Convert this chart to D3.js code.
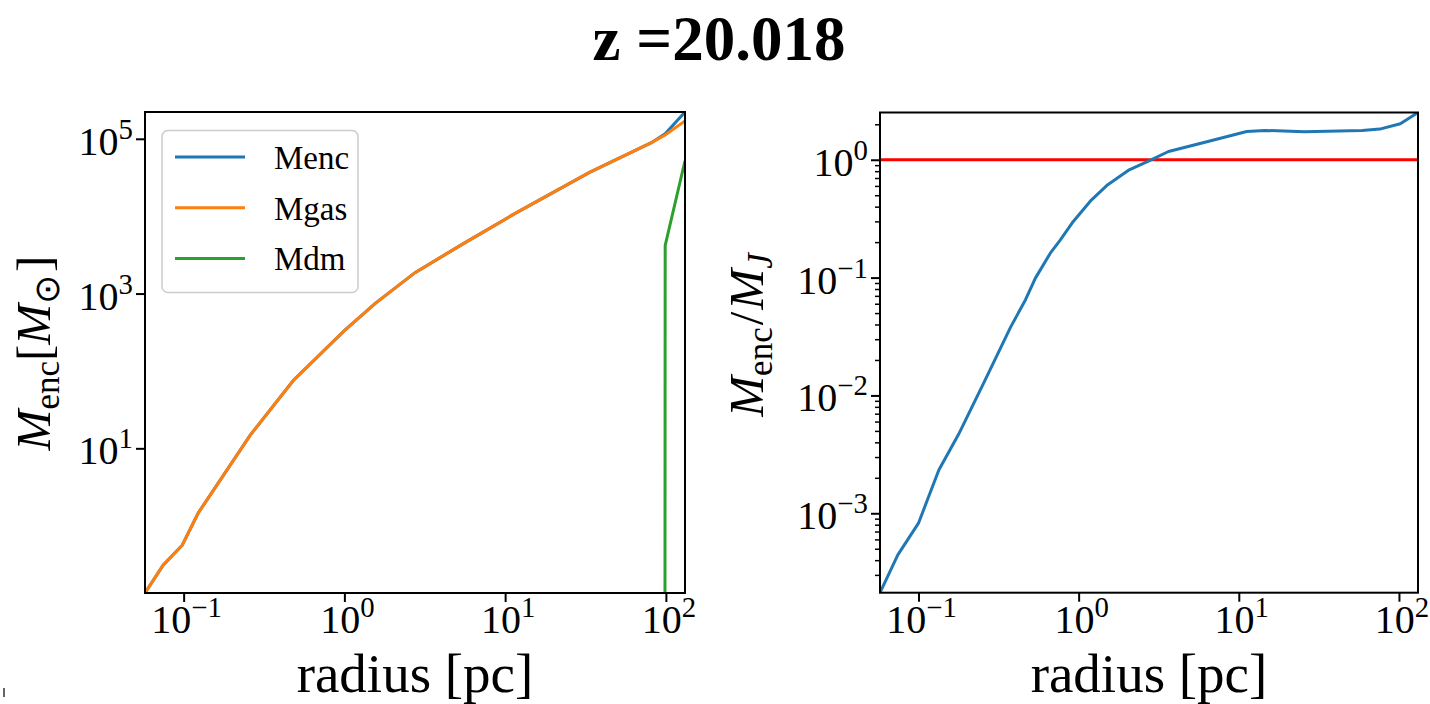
<!DOCTYPE html>
<html>
<head>
<meta charset="utf-8">
<script src="https://cdn.jsdelivr.net/npm/d3@7"></script>
<style>
  body { margin: 0; background: #fff; }
  svg { display: block; }
  text { font-family: "Liberation Serif", "Times New Roman", serif; fill: #000; }
</style>
</head>
<body>
<svg id="fig" width="1430" height="704"></svg>
<script>
// ---- enclosed mass profile (left panel) ----
const radiusMass = [0.0575, 0.0745, 0.098, 0.123, 0.259, 0.481, 1.0, 1.55, 2.75, 5.5, 11.4, 33.5, 81.3, 99, 131.5];
const massGas    = [0.135, 0.309, 0.56, 1.45, 14.7, 75.3, 331, 741, 1862, 4416, 10700, 36800, 89100, 112000, 170000];
const massEnc    = [0.135, 0.309, 0.56, 1.45, 14.7, 75.3, 331, 741, 1862, 4416, 10700, 36800, 89100, 116200, 222000];
const radiusDm   = [81.3, 99, 131.5];
const massDm     = [0, 4200, 52000];

// ---- enclosed mass over Jeans mass (right panel) ----
const radiusRatio = [0.0575, 0.0743, 0.1, 0.134, 0.178, 0.261, 0.376, 0.466, 0.537, 0.667, 0.769, 0.912,
                     1.2, 1.52, 2.07, 2.79, 3.64, 6.41, 11.2, 14.5, 25.7, 58.9, 75.9, 102, 131.5];
const ratioJeans  = [2.118e-4, 4.436e-4, 8.24e-4, 2.333e-3, 4.68e-3, 0.01355, 0.038, 0.0649, 0.099, 0.162,
                     0.209, 0.2917, 0.455, 0.614, 0.822, 0.99, 1.175, 1.429, 1.738, 1.774, 1.73, 1.774, 1.82, 2.023, 2.518];
const jeansThreshold = 1;

// ---- ticks and labels ----
const xTickValues  = [0.1, 1, 10, 100];
const yTickLeft    = [10, 1000, 100000];
const yTickRight   = [0.001, 0.01, 0.1, 1];
const legendLabels = ["Menc", "Mgas", "Mdm"];
const titleText    = "z =20.018";
const xLabelText   = "radius [pc]";

const colors = { enc: "#1f77b4", gas: "#ff7f0e", dm: "#2ca02c", ref: "#ff0000" };

const svg = d3.select("#fig");
const TICK_FS = 40;

function expText(v) {
  const e = Math.round(Math.log10(v));
  return e < 0 ? "\u2212" + (-e) : String(e);
}
function powerLabel(t, v) {
  t.append("tspan").attr("font-size", TICK_FS).text("10");
  t.append("tspan").attr("font-size", TICK_FS * 0.72).attr("dy", -TICK_FS * 0.4).text(expText(v));
}
function minorTicks(domain) {
  const out = [];
  const lo = Math.floor(Math.log10(domain[0])), hi = Math.ceil(Math.log10(domain[1]));
  for (let k = lo; k <= hi; k++) {
    for (let m = 2; m <= 9; m++) {
      const v = m * Math.pow(10, k);
      if (v >= domain[0] && v <= domain[1]) out.push(v);
    }
  }
  return out;
}
// log axes cannot show zero: clip non-positive values to a tiny floor
const FLOOR = 1e-300;
const pos = v => (v > 0 ? v : FLOOR);

function makePanel(id, box, xDomain, yDomain, yTicks, withMinorY) {
  const x = d3.scaleLog().domain(xDomain).range([box.left, box.right]);
  const y = d3.scaleLog().domain(yDomain).range([box.bottom, box.top]);
  const g = svg.append("g");

  g.append("clipPath").attr("id", id)
    .append("rect").attr("x", box.left).attr("y", box.top)
    .attr("width", box.right - box.left).attr("height", box.bottom - box.top);

  // x axis ticks
  g.append("g").attr("transform", `translate(0,${box.bottom})`)
    .call(d3.axisBottom(x).tickValues(xTickValues).tickSize(9).tickFormat(""))
    .call(a => a.select(".domain").remove())
    .call(a => a.selectAll("line").attr("stroke", "#000").attr("stroke-width", 2));
  g.append("g").selectAll("text").data(xTickValues).join("text")
    .attr("x", d => x(d) + 3).attr("y", 633)
    .attr("text-anchor", "middle")
    .each(function (d) { powerLabel(d3.select(this), d); });

  // y axis ticks
  if (withMinorY) {
    g.append("g").attr("transform", `translate(${box.left},0)`)
      .call(d3.axisLeft(y).tickValues(minorTicks(yDomain)).tickSize(5).tickFormat(""))
      .call(a => a.select(".domain").remove())
      .call(a => a.selectAll("line").attr("stroke", "#000").attr("stroke-width", 1.5));
  }
  g.append("g").attr("transform", `translate(${box.left},0)`)
    .call(d3.axisLeft(y).tickValues(yTicks).tickSize(9).tickFormat(""))
    .call(a => a.select(".domain").remove())
    .call(a => a.selectAll("line").attr("stroke", "#000").attr("stroke-width", 2));
  g.append("g").selectAll("text").data(yTicks).join("text")
    .attr("x", box.left - 12).attr("y", d => y(d) + 16)
    .attr("text-anchor", "end")
    .each(function (d) { powerLabel(d3.select(this), d); });

  const plot = g.append("g").attr("clip-path", `url(#${id})`);
  return { x, y, g, plot };
}

function frame(p, box) {
  p.g.append("rect").attr("x", box.left).attr("y", box.top)
    .attr("width", box.right - box.left).attr("height", box.bottom - box.top)
    .attr("fill", "none").attr("stroke", "#000").attr("stroke-width", 2);
}

// ---------------- left panel ----------------
const boxL = { left: 145, right: 685, top: 112, bottom: 593 };
const xDomain = d3.extent(radiusMass.concat(radiusRatio));
const left = makePanel("clipL", boxL, xDomain,
  [d3.min(massGas.concat(massEnc)), d3.max(massGas.concat(massEnc))], yTickLeft, false);

const lineL = (rs, ms) => d3.line().x((d, i) => left.x(rs[i])).y((d, i) => left.y(pos(ms[i])))(ms);
left.plot.append("path").attr("d", lineL(radiusMass, massEnc))
  .attr("fill", "none").attr("stroke", colors.enc).attr("stroke-width", 3);
left.plot.append("path").attr("d", lineL(radiusMass, massGas))
  .attr("fill", "none").attr("stroke", colors.gas).attr("stroke-width", 3);
left.plot.append("path").attr("d", lineL(radiusDm, massDm))
  .attr("fill", "none").attr("stroke", colors.dm).attr("stroke-width", 3);
frame(left, boxL);

// legend
const lg = left.g.append("g");
lg.append("rect").attr("x", 162).attr("y", 130.5).attr("width", 196).attr("height", 162).attr("rx", 6)
  .attr("fill", "#fff").attr("fill-opacity", 0.8).attr("stroke", "#cccccc").attr("stroke-width", 1.5);
const legendColors = [colors.enc, colors.gas, colors.dm];
legendLabels.forEach((name, i) => {
  const yy = 157 + i * 50.7;
  lg.append("line").attr("x1", 175).attr("x2", 245).attr("y1", yy).attr("y2", yy)
    .attr("stroke", legendColors[i]).attr("stroke-width", 3);
  lg.append("text").attr("x", 274).attr("y", yy + 12).attr("font-size", 33).text(name);
});

// ---------------- right panel ----------------
const boxR = { left: 880, right: 1418, top: 112.5, bottom: 592.7 };
const right = makePanel("clipR", boxR, xDomain, d3.extent(ratioJeans), yTickRight, true);

right.plot.append("line")
  .attr("x1", boxR.left).attr("x2", boxR.right)
  .attr("y1", right.y(jeansThreshold)).attr("y2", right.y(jeansThreshold))
  .attr("stroke", colors.ref).attr("stroke-width", 3);
right.plot.append("path")
  .attr("d", d3.line().x((d, i) => right.x(radiusRatio[i])).y(d => right.y(d))(ratioJeans))
  .attr("fill", "none").attr("stroke", colors.enc).attr("stroke-width", 3)
  .attr("stroke-linejoin", "round");
frame(right, boxR);

// ---------------- titles and axis labels ----------------
svg.append("text").attr("x", 719).attr("y", 60).attr("text-anchor", "middle")
  .attr("font-size", 63).attr("font-weight", "bold").text(titleText);

[boxL, boxR].forEach(b => {
  svg.append("text").attr("x", (b.left + b.right) / 2).attr("y", 691.5)
    .attr("text-anchor", "middle").attr("font-size", 55).text(xLabelText);
});

const LFS = 49, SFS = 35;
function yLabel(cx, cy, parts) {
  const t = svg.append("text").attr("text-anchor", "middle")
    .attr("transform", `translate(${cx},${cy}) rotate(-90)`);
  let shift = 0;
  parts.forEach(p => {
    const target = p.sub ? 9 : 0;
    const s = t.append("tspan").attr("font-size", p.sub ? SFS : LFS).attr("dy", target - shift).text(p.t);
    if (p.it) s.attr("font-style", "italic");
    if (p.dx) s.attr("dx", p.dx);
    shift = target;
  });
}
yLabel(50, 353, [
  { t: "M", it: true }, { t: "enc", sub: true }, { t: "[" }, { t: "M", it: true },
  { t: "\u2299", sub: true }, { t: "]", dx: 3 }
]);
yLabel(763, 335, [
  { t: "M", it: true }, { t: "enc", sub: true }, { t: "/", dx: 2 }, { t: "M", it: true, dx: 2 },
  { t: "J", it: true, sub: true }
]);

svg.append("line").attr("x1", 4).attr("x2", 4).attr("y1", 688).attr("y2", 697)
  .attr("stroke", "#333").attr("stroke-width", 1.5);
</script>
</body>
</html>
